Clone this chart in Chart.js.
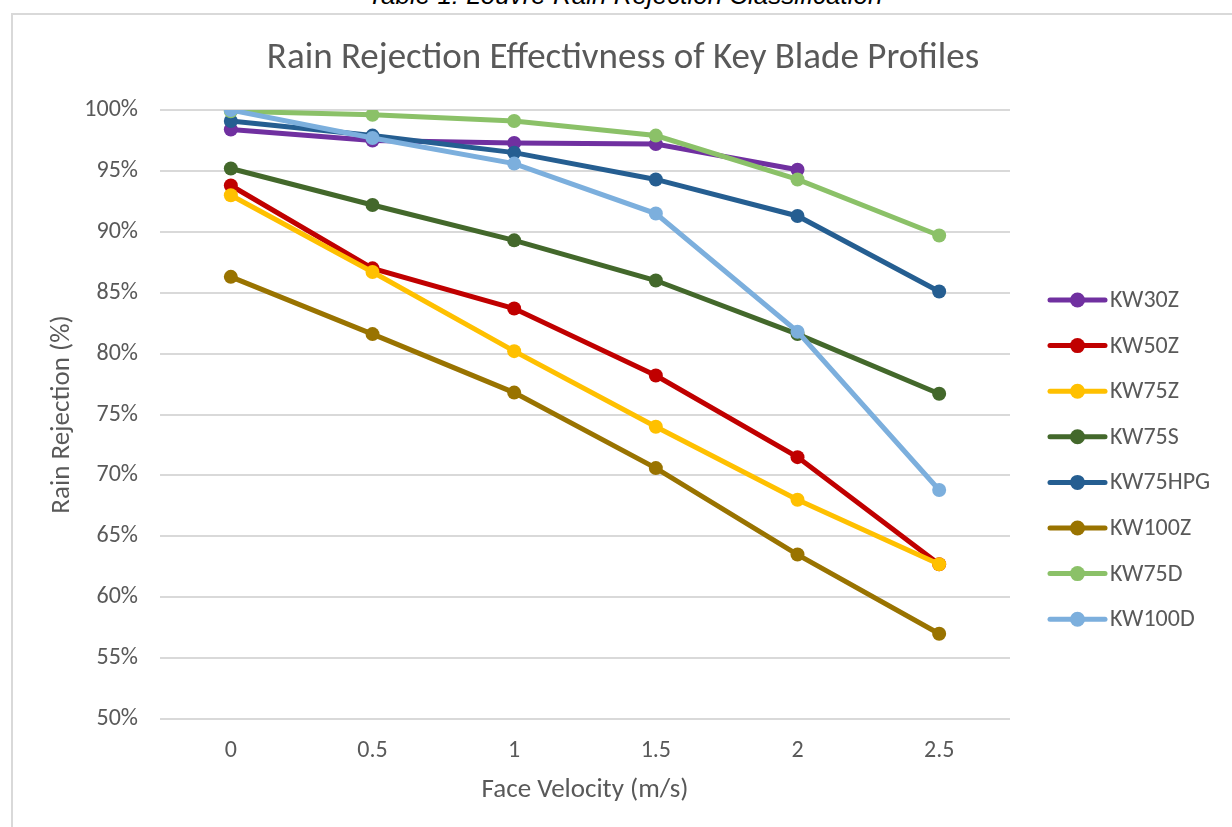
<!DOCTYPE html>
<html>
<head>
<meta charset="utf-8">
<script src="https://cdn.jsdelivr.net/npm/chart.js@4"></script>
<style>
  html, body { margin: 0; padding: 0; background: #ffffff; }
  body { width: 1232px; height: 827px; position: relative; overflow: hidden; }
  #caption { position: absolute; left: 0; width: 1250px; top: -20px; text-align: center;
    font-family: "Liberation Sans", Arial, sans-serif; font-style: italic; font-size: 26px; color: #000; }
  #frame { position: absolute; left: 11px; top: 13px; width: 1400px; height: 1000px;
    border-left: 2px solid #d9d9d9; border-top: 2px solid #d9d9d9; }
  #wrap { position: absolute; left: 0; top: 0; width: 1232px; height: 827px; }
</style>
</head>
<body>
<div id="caption">Table 1: Louvre Rain Rejection Classification</div>
<div id="frame"></div>
<div id="wrap"><canvas id="c"></canvas></div>
<script>
// ---- data ----
const chartTitle = "Rain Rejection Effectivness of Key Blade Profiles";
const velocities = ["0", "0.5", "1", "1.5", "2", "2.5"];
const seriesNames = ["KW30Z", "KW50Z", "KW75Z", "KW75S", "KW75HPG", "KW100Z", "KW75D", "KW100D"];
const kw30z   = [98.4, 97.5, 97.3, 97.2, 95.1, null];
const kw50z   = [93.8, 87.0, 83.7, 78.2, 71.5, 62.7];
const kw75z   = [93.0, 86.7, 80.2, 74.0, 68.0, 62.7];
const kw75s   = [95.2, 92.2, 89.3, 86.0, 81.6, 76.7];
const kw75hpg = [99.1, 97.9, 96.5, 94.3, 91.3, 85.1];
const kw100z  = [86.3, 81.6, 76.8, 70.6, 63.5, 57.0];
const kw75d   = [99.9, 99.6, 99.1, 97.9, 94.3, 89.7];
const kw100d  = [100.0, 97.7, 95.6, 91.5, 81.8, 68.8];
const seriesValues = [kw30z, kw50z, kw75z, kw75s, kw75hpg, kw100z, kw75d, kw100d];
const seriesColors = ["#7030A0", "#C00000", "#FFC000", "#43682B", "#255E91", "#997300", "#8BC168", "#7CAFDD"];
const yTicks = [50, 55, 60, 65, 70, 75, 80, 85, 90, 95, 100];

const FONT = "Carlito, Lato, 'Open Sans', sans-serif";
const TXT = "#595959";

const datasets = seriesNames.map((name, i) => ({
  label: name,
  data: seriesValues[i],
  borderColor: seriesColors[i],
  backgroundColor: seriesColors[i],
  pointBackgroundColor: seriesColors[i],
  pointBorderColor: seriesColors[i],
  borderWidth: 5,
  pointRadius: 7,
  pointHoverRadius: 7,
  pointBorderWidth: 0,
  tension: 0,
  spanGaps: false,
  order: seriesNames.length - i
}));

// chart title centred on the whole chart frame + custom legend (line + marker + text)
const decorPlugin = {
  id: 'excelDecor',
  afterDraw(chart) {
    const ctx = chart.ctx;
    ctx.save();
    ctx.fillStyle = TXT;
    ctx.font = "37px " + FONT;
    ctx.textAlign = 'center';
    ctx.textBaseline = 'middle';
    ctx.fillText(chartTitle, 623, 59);

    const x0 = 1050, x1 = 1105, tx = 1110, y0 = 300, dy = 45.6;
    chart.data.datasets.forEach((ds, i) => {
      const y = y0 + i * dy;
      ctx.strokeStyle = ds.borderColor;
      ctx.lineWidth = 5;
      ctx.lineCap = 'round';
      ctx.beginPath(); ctx.moveTo(x0, y); ctx.lineTo(x1, y); ctx.stroke();
      ctx.fillStyle = ds.borderColor;
      ctx.beginPath(); ctx.arc((x0 + x1) / 2, y, 7.5, 0, Math.PI * 2); ctx.fill();
      ctx.fillStyle = TXT;
      ctx.font = "24px " + FONT;
      ctx.textAlign = 'left';
      ctx.textBaseline = 'middle';
      ctx.fillText(ds.label, tx, y + 1);
    });
    ctx.restore();
  }
};

new Chart(document.getElementById('c'), {
  type: 'line',
  data: { labels: velocities, datasets },
  plugins: [decorPlugin],
  options: {
    responsive: true,
    maintainAspectRatio: false,
    animation: false,
    layout: { padding: { left: 0, right: 222, top: 110, bottom: 8 } },
    plugins: {
      legend: { display: false },
      tooltip: { enabled: false },
      title: { display: false }
    },
    scales: {
      x: {
        type: 'category',
        offset: true,
        grid: { display: false, drawTicks: false },
        border: { display: false },
        ticks: { color: TXT, font: { family: FONT, size: 24 }, padding: 18 },
        title: { display: true, text: "Face Velocity (m/s)", color: TXT, font: { family: FONT, size: 27 }, padding: { top: 13, bottom: 13 } },
        afterFit(s) { s.height = 100; }
      },
      y: {
        min: 50, max: 100,
        afterBuildTicks(s) { s.ticks = yTicks.map(v => ({ value: v })); },
        grid: { color: "#d9d9d9", lineWidth: 2, drawTicks: false },
        border: { display: false },
        ticks: { color: TXT, font: { family: FONT, size: 24 }, padding: 22, callback: v => v + "%" },
        title: { display: true, text: "Rain Rejection (%)", color: TXT, font: { family: FONT, size: 27 }, padding: { top: 46, bottom: 4 } },
        afterFit(s) { s.width = 160; }
      }
    }
  }
});
</script>
</body>
</html>
